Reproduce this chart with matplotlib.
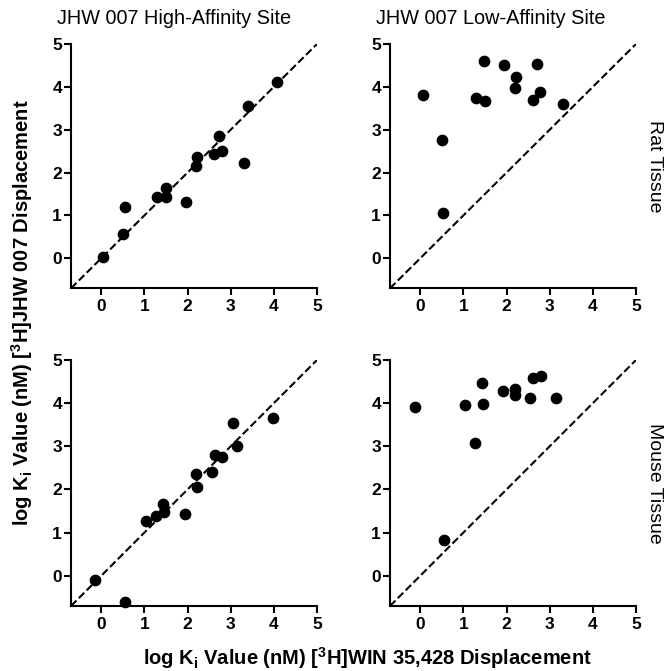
import matplotlib
matplotlib.use("Agg")
import matplotlib.pyplot as plt

plt.rcParams['font.family'] = ['Liberation Sans', 'DejaVu Sans']
plt.rcParams['mathtext.fontset'] = 'custom'
plt.rcParams['mathtext.rm'] = 'Liberation Sans'
plt.rcParams['mathtext.it'] = 'Liberation Sans:italic'
plt.rcParams['mathtext.bf'] = 'Liberation Sans:bold'

# --- data (log Ki values) ---
# Rat tissue, high-affinity site
rat_high_x = [0.05, 0.51, 0.54, 1.29, 1.49, 1.50, 1.96, 2.20, 2.23, 2.61, 2.72, 2.79, 3.30, 3.41, 4.08]
rat_high_y = [0.03, 0.56, 1.20, 1.42, 1.42, 1.64, 1.31, 2.15, 2.36, 2.43, 2.85, 2.50, 2.22, 3.55, 4.11]

# Rat tissue, low-affinity site
rat_low_x = [0.07, 0.51, 0.53, 1.29, 1.50, 1.47, 1.95, 2.22, 2.19, 2.61, 2.71, 2.78, 3.30]
rat_low_y = [3.81, 2.75, 1.06, 3.73, 3.66, 4.61, 4.52, 4.22, 3.97, 3.70, 4.53, 3.89, 3.59]

# Mouse tissue, high-affinity site
mouse_high_x = [-0.14, 0.56, 1.03, 1.27, 1.45, 1.44, 1.93, 2.19, 2.21, 2.56, 2.63, 2.81, 3.06, 3.15, 3.97]
mouse_high_y = [-0.09, -0.61, 1.28, 1.39, 1.47, 1.67, 1.44, 2.36, 2.05, 2.40, 2.81, 2.75, 3.55, 3.00, 3.66]

# Mouse tissue, low-affinity site
mouse_low_x = [-0.13, 0.55, 1.03, 1.26, 1.43, 1.45, 1.92, 2.19, 2.19, 2.55, 2.61, 2.80, 3.14]
mouse_low_y = [3.91, 0.84, 3.96, 3.07, 4.47, 3.98, 4.28, 4.32, 4.20, 4.11, 4.58, 4.63, 4.12]

col_titles = ["JHW 007 High-Affinity Site", "JHW 007 Low-Affinity Site"]
row_labels = ["Rat Tissue", "Mouse Tissue"]
ticks = [0, 1, 2, 3, 4, 5]
lims = (-0.7, 5)

panels = [
    [(rat_high_x, rat_high_y), (rat_low_x, rat_low_y)],
    [(mouse_high_x, mouse_high_y), (mouse_low_x, mouse_low_y)],
]

W = 671
fig = plt.figure(figsize=(6.71, 6.71), dpi=100)

lefts = [71 / W, 390 / W]
bottoms = [1 - 288.3 / W, 1 - 606 / W]
heights = [(288.3 - 44) / W, (606 - 360) / W]
width = 246 / W

for r in range(2):
    for c in range(2):
        ax = fig.add_axes([lefts[c], bottoms[r], width, heights[r]])
        x, y = panels[r][c]
        ax.plot(lims, lims, linestyle='--', color='black', linewidth=1.5, zorder=1)
        ax.scatter(x, y, s=55, color='black', zorder=3, clip_on=False)
        ax.set_xlim(*lims)
        ax.set_ylim(*lims)
        ax.set_xticks(ticks)
        ax.set_yticks(ticks)
        ax.spines['top'].set_visible(False)
        ax.spines['right'].set_visible(False)
        for s in ('left', 'bottom'):
            ax.spines[s].set_linewidth(1.5)
        ax.tick_params(direction='out', length=5, width=1.5, labelsize=12.5)
        ax.tick_params(axis='x', pad=3)
        ax.tick_params(axis='y', pad=1.5)
        for lab in ax.get_xticklabels() + ax.get_yticklabels():
            lab.set_fontweight('bold')

# column titles
fig.text(174 / W, 1 - 18 / W, col_titles[0], ha='center', va='center', fontsize=14.3)
fig.text(491 / W, 1 - 18 / W, col_titles[1], ha='center', va='center', fontsize=14.3)

# row labels
fig.text(655 / W, 1 - 166 / W, row_labels[0], rotation=270, ha='center', va='center', fontsize=14)
fig.text(655 / W, 1 - 483 / W, row_labels[1], rotation=270, ha='center', va='center', fontsize=14)

# shared axis labels
fig.text(367 / W, 1 - 658 / W, r"log K$_\mathbf{i}$ Value (nM) [$^\mathbf{3}$H]WIN 35,428 Displacement",
         ha='center', va='center', fontsize=14.5, fontweight='bold')
fig.text(22 / W, 1 - 313 / W, r"log K$_\mathbf{i}$ Value (nM) [$^\mathbf{3}$H]JHW 007 Displacement",
         ha='center', va='center', rotation=90, fontsize=14.5, fontweight='bold')

fig.savefig("out.png", dpi=100)
